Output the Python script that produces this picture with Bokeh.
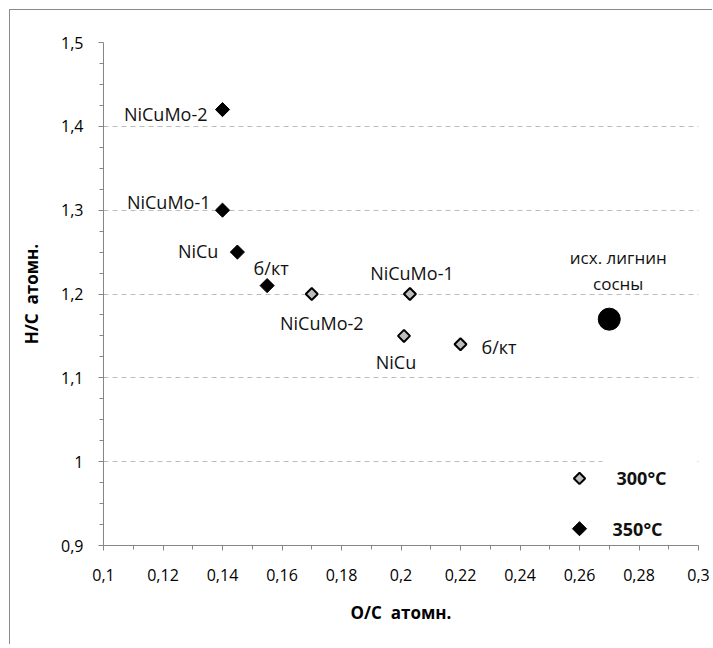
from bokeh.plotting import figure
from bokeh.models import ColumnDataSource, FixedTicker, BoxAnnotation
from bokeh.core.properties import value
from bokeh.embed import file_html
from bokeh.resources import INLINE

# ---------------- data ----------------
cat_names = ["NiCuMo-2", "NiCuMo-1", "NiCu", "б/кт"]

oc_350 = [0.14, 0.14, 0.145, 0.155]
hc_350 = [1.42, 1.30, 1.25, 1.21]

oc_300 = [0.17, 0.203, 0.201, 0.22]
hc_300 = [1.20, 1.20, 1.15, 1.14]
names_300 = ["NiCuMo-2", "NiCuMo-1", "NiCu", "б/кт"]

lignin_oc = [0.27]
lignin_hc = [1.17]
lignin_name = ["исх. лигнин\nсосны"]

legend_names = ["300°C", "350°C"]
legend_oc = [0.26, 0.26]
legend_hc = [0.98, 0.92]

x_ticks = [0.1, 0.12, 0.14, 0.16, 0.18, 0.2, 0.22, 0.24, 0.26, 0.28, 0.3]
x_tick_labels = ["0,1", "0,12", "0,14", "0,16", "0,18", "0,2", "0,22", "0,24", "0,26", "0,28", "0,3"]
x_minor = [0.11, 0.13, 0.15, 0.17, 0.19, 0.21, 0.23, 0.25, 0.27, 0.29]
y_ticks = [0.9, 1.0, 1.1, 1.2, 1.3, 1.4, 1.5]
y_tick_labels = ["0,9", "1", "1,1", "1,2", "1,3", "1,4", "1,5"]
y_minor = [0.925, 0.95, 0.975, 1.025, 1.05, 1.075, 1.125, 1.15, 1.175,
           1.225, 1.25, 1.275, 1.325, 1.35, 1.375, 1.425, 1.45, 1.475]

x_title = "O/C\u00a0 атомн."
y_title = "H/C\u00a0 атомн."

# ---------------- label placement (styling) ----------------
lab350_align = ["right", "right", "right", "center"]
lab350_dx = [-15, -12, -19, 4]
lab350_dy = [4, -8, -1, -18]
lab300_align = ["center", "center", "center", "left"]
lab300_dx = [10, 2, -8, 21]
lab300_dy = [29, -21, 26, 3]

FONT = "Open Sans"

p = figure(width=703, height=635, output_backend="svg", toolbar_location=None,
           x_range=(0.1, 0.3), y_range=(0.9, 1.5),
           min_border_left=93, min_border_top=32, min_border_right=15, min_border_bottom=100)
p.styles = {"border-left": "1px solid #8a8a8a", "border-top": "1px solid #8a8a8a",
            "margin-left": "9px", "margin-top": "9px"}
p.outline_line_color = None
p.background_fill_color = "white"
p.border_fill_color = "white"

# axes
p.xaxis.ticker = FixedTicker(ticks=x_ticks, minor_ticks=x_minor)
p.yaxis.ticker = FixedTicker(ticks=y_ticks, minor_ticks=y_minor)
p.xaxis.major_label_overrides = dict(zip(x_ticks, x_tick_labels))
p.yaxis.major_label_overrides = dict(zip(y_ticks, y_tick_labels))
for ax in (p.xaxis, p.yaxis):
    ax.axis_line_color = "#868686"
    ax.major_tick_line_color = "#868686"
    ax.minor_tick_line_color = "#868686"
    ax.major_tick_in = 0
    ax.major_tick_out = 5
    ax.minor_tick_in = 0
    ax.minor_tick_out = 4
    ax.major_label_text_font = FONT
    ax.major_label_text_font_size = "16px"
    ax.major_label_text_color = "#000000"
    ax.axis_label_text_font = FONT
    ax.axis_label_text_font_size = "17px"
    ax.axis_label_text_font_style = "bold"
    ax.axis_label_text_color = "#000000"
p.xaxis.axis_label = x_title
p.yaxis.axis_label = y_title
p.xaxis.major_label_standoff = 18
p.yaxis.major_label_standoff = 15
p.xaxis.axis_label_standoff = 17
p.yaxis.axis_label_standoff = 15

p.xgrid.grid_line_color = None
p.ygrid.ticker = FixedTicker(ticks=y_ticks)
p.ygrid.grid_line_color = "#bdbdbd"
p.ygrid.grid_line_dash = "5 4"
p.ygrid.grid_line_width = 1

# white text box of the legend labels (covers grid line)
box = BoxAnnotation(left=legend_oc[0] + 0.0077, right=0.2995,
                    bottom=0.905, top=1.005, fill_color="white", fill_alpha=1,
                    line_color=None, level="underlay")
p.add_layout(box)

src350 = ColumnDataSource(dict(x=oc_350, y=hc_350, name=cat_names,
                               align=lab350_align, dx=lab350_dx, dy=lab350_dy))
src300 = ColumnDataSource(dict(x=oc_300, y=hc_300, name=names_300,
                               align=lab300_align, dx=lab300_dx, dy=lab300_dy))
srclig = ColumnDataSource(dict(x=lignin_oc, y=lignin_hc, name=lignin_name))

# markers
p.scatter("x", "y", source=src350, marker="square", angle=0.785398, size=10,
          fill_color="black", line_color="black", line_width=1)
p.scatter("x", "y", source=src300, marker="square", angle=0.785398, size=8.5,
          fill_color="#bdbdbd", line_color="black", line_width=2)
p.scatter("x", "y", source=srclig, marker="circle", size=22,
          fill_color="black", line_color="black")
p.scatter(x=[legend_oc[0]], y=[legend_hc[0]], marker="square", angle=0.785398, size=8,
          fill_color="#bdbdbd", line_color="black", line_width=2)
p.scatter(x=[legend_oc[1]], y=[legend_hc[1]], marker="square", angle=0.785398, size=10,
          fill_color="black", line_color="black", line_width=1)

# labels
p.text("x", "y", text="name", source=src350, text_align="align", x_offset="dx", y_offset="dy",
       text_baseline="middle", text_font=value(FONT), text_font_size="18px", text_color="#111111")
p.text("x", "y", text="name", source=src300, text_align="align", x_offset="dx", y_offset="dy",
       text_baseline="middle", text_font=value(FONT), text_font_size="18px", text_color="#111111")
p.text("x", "y", text="name", source=srclig, text_align="center", x_offset=9, y_offset=-49,
       text_baseline="middle", text_line_height=1.13,
       text_font=value(FONT), text_font_size="17px", text_color="#111111")
legsrc_a = ColumnDataSource(dict(x=legend_oc[:1], y=legend_hc[:1], name=legend_names[:1]))
legsrc_b = ColumnDataSource(dict(x=legend_oc[1:], y=legend_hc[1:], name=legend_names[1:]))
p.text("x", "y", text="name", source=legsrc_a, text_align="left", x_offset=37, y_offset=0,
       text_baseline="middle", text_font=value(FONT), text_font_size="18px",
       text_font_style="bold", text_color="#111111")
p.text("x", "y", text="name", source=legsrc_b, text_align="left", x_offset=33, y_offset=0,
       text_baseline="middle", text_font=value(FONT), text_font_size="18px",
       text_font_style="bold", text_color="#111111")

open("out.html", "w").write(file_html(p, INLINE))
